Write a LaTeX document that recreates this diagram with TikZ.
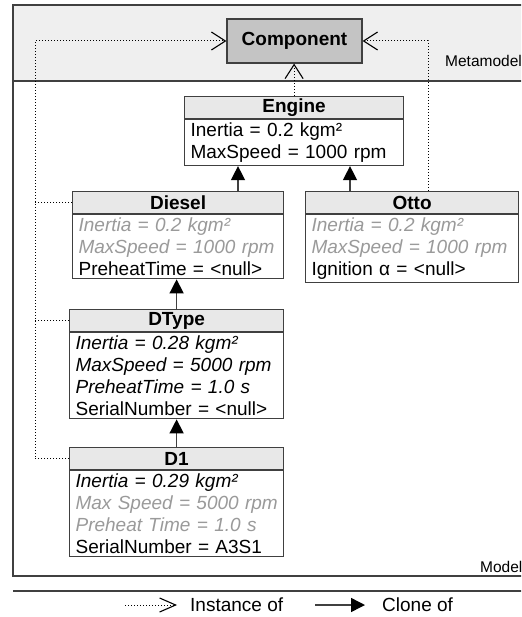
\documentclass[tikz,border=0pt]{standalone}
\usepackage{fontspec}
\setmainfont{Liberation Sans}
\usetikzlibrary{arrows.meta,positioning,calc}
\definecolor{edge}{HTML}{404040}
\definecolor{bandbg}{HTML}{EFEFEF}
\definecolor{headbg}{HTML}{E8E8E8}
\definecolor{compbg}{HTML}{C4C4C4}
\definecolor{inherited}{HTML}{9A9A9A}
\newcommand{\faded}[1]{\mbox{\textcolor{inherited}{\itshape #1}}}
\newcommand{\setval}[1]{\mbox{\itshape #1}}

\begin{document}
\begin{tikzpicture}[x=1pt, y=-1pt,
  font=\fontsize{19}{22}\selectfont,
  head/.style={draw=edge, fill=headbg, line width=1.2pt, anchor=north west,
               minimum height=22pt, inner sep=0pt, font=\fontsize{19}{22}\selectfont\bfseries},
  attrs/.style={draw=edge, fill=white, line width=1.2pt, anchor=north, align=left,
                inner xsep=6pt, inner ysep=3pt},
  clone/.style={-{Triangle[length=14pt,width=14pt,color=black]}, draw=edge, line width=1.4pt},
  inst/.style={-{Straight Barb[length=14pt,width=18pt,line width=1.1pt]}, draw=black,
               line width=1pt, dash pattern=on 1pt off 2pt},
  dots/.style={draw=black, line width=1pt, dash pattern=on 1pt off 2pt},
  region/.style={font=\fontsize{15.5}{18}\selectfont, inner sep=0pt, anchor=west}]

\useasboundingbox (0,0) rectangle (521,617);
\clip (0,0) rectangle (521,617);

% levels
\fill[bandbg] (13,5) rectangle (540,81);
\draw[edge, line width=1.2pt] (13,5) rectangle (540,576);
\draw[edge, line width=1.2pt] (13,81) -- (540,81);
\draw[edge, line width=1.2pt] (13,591) -- (540,591);
\node[region] (metalbl) at (445,61) {Metamodel};
\node[region] (modellbl) at (480,567) {Model};

\node[draw=edge, fill=compbg, line width=1.2pt, minimum width=135pt, minimum height=44pt,
      font=\fontsize{19}{22}\selectfont\bfseries] (comp) at (294.5,41) {Component};

\node[head, minimum width=219pt] (engineh) at (184,96) {Engine};
\node[attrs, text width=207pt] (engine) at (engineh.south)
  {Inertia = 0.2 kgm²\\MaxSpeed = 1000 rpm};

\node[head, minimum width=211pt] (dieselh) at (72,191) {Diesel};
\node[attrs, text width=199pt] (diesel) at (dieselh.south)
  {\faded{Inertia = 0.2 kgm²}\\\faded{MaxSpeed = 1000 rpm}\\PreheatTime = <null>};

\node[head, minimum width=213pt] (ottoh) at (305,191) {Otto};
\node[attrs, text width=201pt] (otto) at (ottoh.south)
  {\faded{Inertia = 0.2 kgm²}\\\faded{MaxSpeed = 1000 rpm}\\Ignition α = <null>};

\node[head, minimum width=214pt] (dtypeh) at (69,309) {DType};
\node[attrs, text width=202pt] (dtype) at (dtypeh.south)
  {\setval{Inertia = 0.28 kgm²}\\\setval{MaxSpeed = 5000 rpm}\\\setval{PreheatTime = 1.0 s}\\SerialNumber = <null>};

\node[head, minimum width=214pt] (d1h) at (69,447) {D1};
\node[attrs, text width=202pt] (d1) at (d1h.south)
  {\setval{Inertia = 0.29 kgm²}\\\faded{Max Speed = 5000 rpm}\\\faded{Preheat Time = 1.0 s}\\SerialNumber = A3S1};

% clone of
\draw[clone] ([xshift=54pt]engine.south west |- dieselh.north) -- ([xshift=54pt]engine.south west);
\draw[clone] ([xshift=166pt]engine.south west |- ottoh.north) -- ([xshift=166pt]engine.south west);
\draw[clone] (dtypeh.north) -- (diesel.south -| dtypeh.north);
\draw[clone] (d1h.north) -- (dtype.south -| d1h.north);

% instance of
\coordinate (rail) at (35,41);
\draw[inst] (engineh.north) -- (comp.south -| engineh.north);
\draw[inst] (d1h.west) -- (d1h.west -| rail) -- (rail) -- (comp.west);
\draw[dots] (dtypeh.west) -- (dtypeh.west -| rail);
\draw[dots] (dieselh.west) -- (dieselh.west -| rail);
\draw[inst] ([xshift=123pt]ottoh.north west) |- (comp.east);

% legend
\node[inner sep=0pt, anchor=west] (instlbl) at (190,605) {Instance of};
\node[inner sep=0pt, anchor=west] (clonelbl) at (382,605) {Clone of};
\coordinate (inst0) at (125,605);
\coordinate (clone0) at (315,605);
\draw[inst, -{Straight Barb[length=16pt,width=14pt,line width=1.1pt]}] (inst0) -- ([xshift=-13pt]instlbl.west);
\draw[clone] (clone0) -- ([xshift=-17pt]clonelbl.west);
\end{tikzpicture}
\end{document}
